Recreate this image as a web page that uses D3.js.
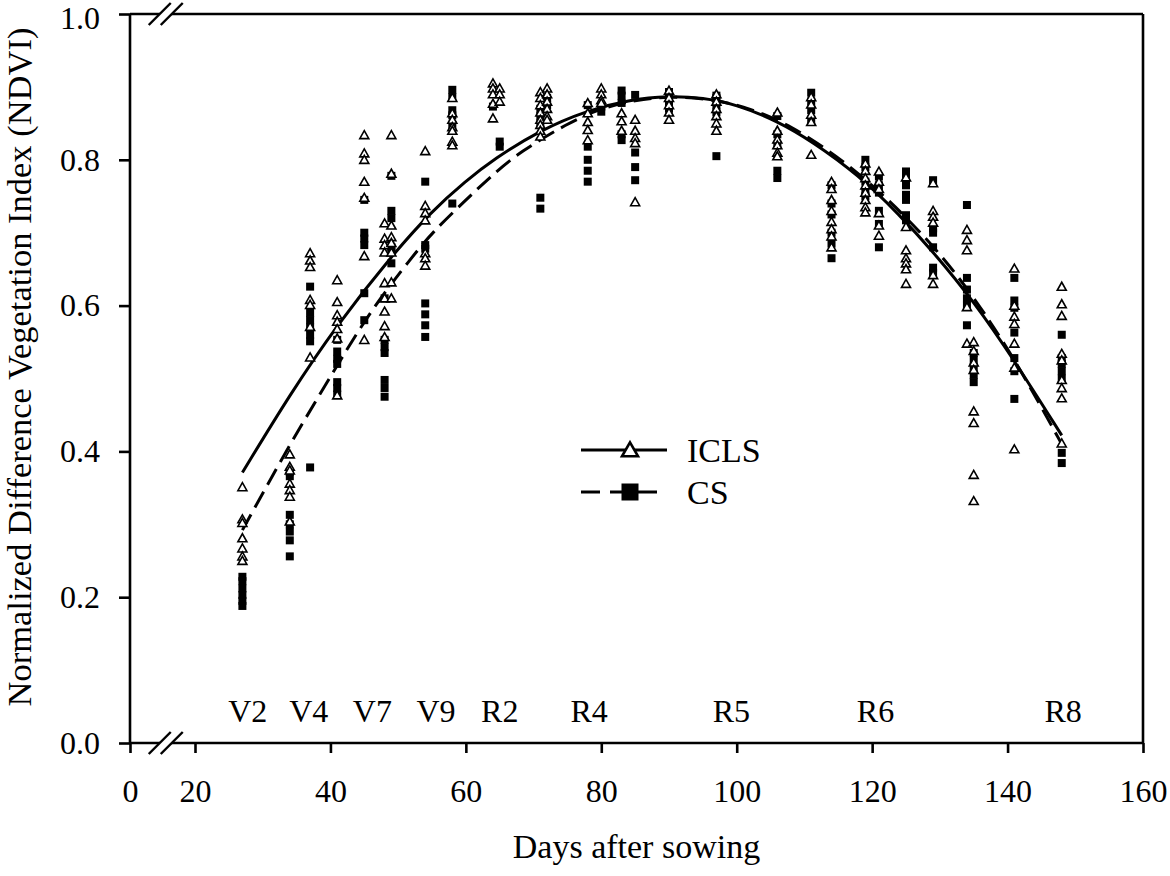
<!DOCTYPE html>
<html>
<head>
<meta charset="utf-8">
<script src="https://cdn.jsdelivr.net/npm/d3@7/dist/d3.min.js"></script>
<style>
  html, body { margin: 0; padding: 0; background: #fff; }
  svg { display: block; font-family: "Liberation Serif", "Times New Roman", serif; }
</style>
</head>
<body>
<svg id="chart" width="1170" height="876"></svg>
<script>
// ---------------- data ----------------
const xTicks = [0, 20, 40, 60, 80, 100, 120, 140, 160];
const yTicks = [0, 0.2, 0.4, 0.6, 0.8, 1.0];

const stageLabels = ["V2", "V4", "V7", "V9", "R2", "R4", "R5", "R6", "R8"];
const stageDays   = [27.8, 36.8, 46.2, 55.6, 65, 78.2, 99.2, 120.5, 148.2];

const sampleDays = [27, 34, 37, 41, 45, 48, 49, 54, 58, 64, 65, 71, 72, 78, 80, 83, 85, 90, 97,
                    106, 111, 114, 119, 121, 125, 129, 134, 135, 141, 148];

const iclsNdvi = [
  [0.351, 0.307, 0.302, 0.281, 0.267, 0.256, 0.250],
  [0.396, 0.379, 0.374, 0.356, 0.347, 0.338, 0.304],
  [0.672, 0.662, 0.653, 0.608, 0.601, 0.571, 0.529],
  [0.635, 0.605, 0.587, 0.578, 0.568, 0.555, 0.477],
  [0.834, 0.809, 0.800, 0.770, 0.748, 0.668, 0.553],
  [0.713, 0.692, 0.683, 0.673, 0.631, 0.610, 0.592, 0.572, 0.557],
  [0.834, 0.781, 0.710, 0.694, 0.686, 0.673, 0.632, 0.610],
  [0.812, 0.737, 0.727, 0.717, 0.672, 0.665, 0.655],
  [0.885, 0.864, 0.855, 0.845, 0.840, 0.825, 0.820],
  [0.905, 0.898, 0.890, 0.877, 0.857],
  [0.898, 0.890, 0.880],
  [0.893, 0.885, 0.875, 0.865, 0.855, 0.848, 0.840, 0.832],
  [0.898, 0.890, 0.880, 0.870, 0.860, 0.855],
  [0.878, 0.864, 0.852, 0.841, 0.827],
  [0.898, 0.890, 0.882, 0.878],
  [0.864, 0.853, 0.840],
  [0.855, 0.840, 0.830, 0.823, 0.742],
  [0.895, 0.885, 0.875, 0.865, 0.855],
  [0.890, 0.880, 0.870, 0.860, 0.850, 0.840],
  [0.865, 0.840, 0.828, 0.820, 0.810, 0.805],
  [0.886, 0.876, 0.862, 0.852, 0.807],
  [0.770, 0.760, 0.745, 0.730, 0.715, 0.705, 0.695, 0.680],
  [0.795, 0.785, 0.775, 0.765, 0.755, 0.745, 0.735, 0.728],
  [0.784, 0.770, 0.760, 0.727, 0.710, 0.696],
  [0.776, 0.708, 0.676, 0.665, 0.658, 0.650, 0.630],
  [0.768, 0.730, 0.722, 0.714, 0.642, 0.630],
  [0.704, 0.690, 0.676, 0.598, 0.548],
  [0.550, 0.538, 0.522, 0.512, 0.455, 0.439, 0.368, 0.332],
  [0.651, 0.600, 0.585, 0.575, 0.548, 0.515, 0.403],
  [0.626, 0.602, 0.586, 0.534, 0.525, 0.498, 0.487, 0.473, 0.411]
];

const csNdvi = [
  [0.228, 0.222, 0.212, 0.203, 0.195, 0.188],
  [0.372, 0.366, 0.313, 0.300, 0.290, 0.278, 0.256],
  [0.626, 0.590, 0.580, 0.570, 0.560, 0.551, 0.378],
  [0.553, 0.537, 0.527, 0.520, 0.495, 0.487, 0.478],
  [0.745, 0.700, 0.692, 0.683, 0.617, 0.580],
  [0.610, 0.553, 0.543, 0.535, 0.498, 0.487, 0.475],
  [0.778, 0.730, 0.720, 0.680, 0.676, 0.658],
  [0.770, 0.683, 0.678, 0.603, 0.588, 0.573, 0.557],
  [0.896, 0.886, 0.868, 0.861, 0.848, 0.740],
  [0.873],
  [0.825, 0.818],
  [0.870, 0.860, 0.850, 0.748, 0.733],
  [0.885, 0.875],
  [0.875, 0.818, 0.800, 0.785, 0.770],
  [0.873, 0.866],
  [0.895, 0.888, 0.878, 0.835, 0.827],
  [0.889, 0.810, 0.790, 0.772],
  [0.893, 0.880, 0.870],
  [0.888, 0.885, 0.875, 0.865, 0.805],
  [0.860, 0.835, 0.820, 0.785, 0.775],
  [0.892, 0.880, 0.868, 0.855],
  [0.765, 0.740, 0.725, 0.700, 0.685, 0.665],
  [0.800, 0.790, 0.770, 0.757, 0.750],
  [0.777, 0.765, 0.755, 0.730, 0.712, 0.680],
  [0.784, 0.775, 0.765, 0.752, 0.745, 0.724, 0.717],
  [0.772, 0.706, 0.700, 0.680, 0.652, 0.645],
  [0.738, 0.638, 0.622, 0.610, 0.600, 0.573],
  [0.535, 0.525, 0.515, 0.505, 0.495],
  [0.638, 0.607, 0.597, 0.563, 0.528, 0.510, 0.472],
  [0.560, 0.528, 0.520, 0.510, 0.500, 0.398, 0.384]
];

// fitted curves
const iclsFitDays   = [27, 34, 41, 49, 55, 60, 64, 71, 78, 84, 90, 95, 100, 106, 111, 118, 124, 129, 135, 141, 148];
const iclsFitValues = [0.371, 0.478, 0.574, 0.668, 0.730, 0.771, 0.800, 0.841, 0.868, 0.882, 0.888, 0.885, 0.876, 0.853, 0.826, 0.779, 0.725, 0.674, 0.606, 0.525, 0.422];
const csFitDays     = [27, 34, 41, 46, 52, 55, 60, 64, 68, 75, 80, 85, 90, 96, 102, 108, 115, 120, 124, 130, 135, 141, 148];
const csFitValues   = [0.292, 0.410, 0.518, 0.594, 0.666, 0.700, 0.745, 0.780, 0.811, 0.850, 0.871, 0.882, 0.887, 0.884, 0.871, 0.847, 0.804, 0.765, 0.731, 0.672, 0.612, 0.528, 0.410];

const seriesNames = ["ICLS", "CS"];

// ---------------- drawing ----------------
const svg = d3.select("#chart");
const x = d3.scaleLinear().domain([0, 20, 160]).range([130, 195, 1143]);
const y = d3.scaleLinear().domain([0, 1]).range([743, 14]);

const AX = 2.6;
const FONT_TICK = 32;

// fitted curves
const line = d3.line().curve(d3.curveBasis).x(d => x(d[0])).y(d => y(d[1]));
svg.append("path")
  .datum(iclsFitDays.map((d, i) => [d, iclsFitValues[i]]))
  .attr("d", line).attr("fill", "none").attr("stroke", "#000").attr("stroke-width", 3);
svg.append("path")
  .datum(csFitDays.map((d, i) => [d, csFitValues[i]]))
  .attr("d", line).attr("fill", "none").attr("stroke", "#000").attr("stroke-width", 3)
  .attr("stroke-dasharray", "18,8");

// points
const csPts = [], iclsPts = [];
sampleDays.forEach((d, i) => {
  csNdvi[i].forEach(v => csPts.push([d, v]));
  iclsNdvi[i].forEach(v => iclsPts.push([d, v]));
});
const SQ = 8;
svg.append("g").selectAll("rect").data(csPts).join("rect")
  .attr("x", d => x(d[0]) - SQ / 2).attr("y", d => y(d[1]) - SQ / 2)
  .attr("width", SQ).attr("height", SQ).attr("fill", "#000");

function triPath(w, h) {
  return `M0,${-h * 0.55}L${w / 2},${h * 0.45}L${-w / 2},${h * 0.45}Z`;
}
svg.append("g").selectAll("path").data(iclsPts).join("path")
  .attr("transform", d => `translate(${x(d[0])},${y(d[1])})`)
  .attr("d", triPath(9, 8))
  .attr("fill", "#fff").attr("stroke", "#000").attr("stroke-width", 1.6)
  .attr("stroke-linejoin", "miter");

// axes
const xAxis = d3.axisBottom(x).tickValues(xTicks).tickFormat(d3.format("d"))
  .tickSize(10).tickSizeOuter(0).tickPadding(26);
const gx = svg.append("g").attr("transform", `translate(0,${y(0)})`).call(xAxis);
gx.select(".domain").remove();
gx.selectAll(".tick line").attr("stroke", "#000").attr("stroke-width", AX);
gx.selectAll(".tick text").attr("font-size", FONT_TICK).attr("font-family", "Liberation Serif").attr("fill", "#000");

const yAxis = d3.axisLeft(y).tickValues(yTicks).tickFormat(d3.format(".1f"))
  .tickSize(11).tickSizeOuter(0).tickPadding(19);
const gy = svg.append("g").attr("transform", `translate(${x(0)},0)`).call(yAxis);
gy.select(".domain").remove();
gy.selectAll(".tick line").attr("stroke", "#000").attr("stroke-width", AX);
gy.selectAll(".tick text").attr("font-size", FONT_TICK).attr("font-family", "Liberation Serif").attr("fill", "#000")
  .attr("dy", d => d === 1 ? "0.45em" : "0.32em");

// frame lines
const frame = svg.append("g").attr("stroke", "#000").attr("stroke-width", AX).attr("fill", "none");
frame.append("line").attr("x1", x(0)).attr("x2", x(160)).attr("y1", y(0)).attr("y2", y(0));
frame.append("line").attr("x1", x(0)).attr("x2", x(160)).attr("y1", y(1)).attr("y2", y(1));
frame.append("line").attr("x1", x(0)).attr("x2", x(0)).attr("y1", y(0)).attr("y2", y(1));
frame.append("line").attr("x1", x(160)).attr("x2", x(160)).attr("y1", y(0)).attr("y2", y(1));

// axis breaks
const bx = x(0) + (x(20) - x(0)) * 0.55;
[y(0), y(1)].forEach(by => {
  svg.append("path")
    .attr("d", `M${bx - 17},${by + 11}L${bx + 5},${by - 11}L${bx + 17},${by - 11}L${bx - 5},${by + 11}Z`)
    .attr("fill", "#fff");
  svg.append("line").attr("x1", bx - 17).attr("y1", by + 11).attr("x2", bx + 5).attr("y2", by - 11)
    .attr("stroke", "#000").attr("stroke-width", 2.4);
  svg.append("line").attr("x1", bx - 5).attr("y1", by + 11).attr("x2", bx + 17).attr("y2", by - 11)
    .attr("stroke", "#000").attr("stroke-width", 2.4);
});

// stage labels
svg.append("g").selectAll("text").data(stageLabels).join("text")
  .attr("x", (d, i) => x(stageDays[i])).attr("y", 722)
  .attr("text-anchor", "middle").attr("font-size", 32).text(d => d);

// axis titles
svg.append("text").attr("x", (x(0) + x(160)) / 2).attr("y", 858)
  .attr("text-anchor", "middle").attr("font-size", 34).text("Days after sowing");
svg.append("text").attr("transform", `translate(31,367) rotate(-90)`)
  .attr("text-anchor", "middle").attr("font-size", 34.5)
  .text("Normalized Difference Vegetation Index (NDVI)");

// legend
const lg = svg.append("g");
const lx1 = 581, lx2 = 667, lmid = 630, ly1 = 450, ly2 = 492;
lg.append("line").attr("x1", lx1).attr("x2", lx2).attr("y1", ly1).attr("y2", ly1)
  .attr("stroke", "#000").attr("stroke-width", 3);
lg.append("path").attr("transform", `translate(${lmid},${ly1})`)
  .attr("d", triPath(16, 14)).attr("fill", "#fff").attr("stroke", "#000").attr("stroke-width", 2.6);
lg.append("line").attr("x1", lx1).attr("x2", lx1 + 19).attr("y1", ly2).attr("y2", ly2)
  .attr("stroke", "#000").attr("stroke-width", 3);
lg.append("line").attr("x1", lx1 + 29).attr("x2", lx2 - 10).attr("y1", ly2).attr("y2", ly2)
  .attr("stroke", "#000").attr("stroke-width", 3);
lg.append("rect").attr("x", lmid - 8.5).attr("y", ly2 - 8.5)
  .attr("width", 17).attr("height", 17).attr("fill", "#000");
lg.selectAll("text.lbl").data(seriesNames).join("text").attr("class", "lbl")
  .attr("x", 687).attr("y", (d, i) => (i === 0 ? ly1 : ly2) + 12)
  .attr("font-size", 34).text(d => d);
</script>
</body>
</html>
